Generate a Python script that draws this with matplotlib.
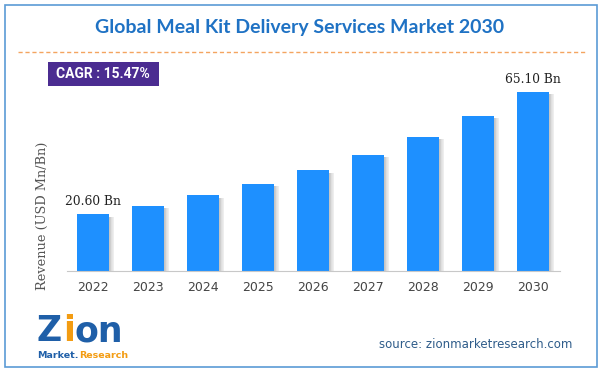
import matplotlib
matplotlib.use("Agg")
import matplotlib.pyplot as plt
from matplotlib.patches import Rectangle

years = ["2022", "2023", "2024", "2025", "2026", "2027", "2028", "2029", "2030"]
revenue = [20.6, 23.8, 27.5, 31.7, 36.6, 42.3, 48.8, 56.4, 65.1]
first_label = "20.60 Bn"
last_label = "65.10 Bn"
title = "Global Meal Kit Delivery Services Market 2030"
cagr = "CAGR : 15.47%"
ylabel = "Revenue (USD Mn/Bn)"
source = "source: zionmarketresearch.com"

W, H = 601, 373
fig = plt.figure(figsize=(W / 100, H / 100), dpi=100)
renderer = fig.canvas.get_renderer()

def fx(px):
    return px / W

def fy(py):
    return 1 - py / H

def fit_text(xc, yc, s, target_w, size, **kw):
    t = fig.text(fx(xc), fy(yc), s, fontsize=size, **kw)
    w = t.get_window_extent(renderer=renderer).width
    t.set_fontsize(size * target_w / w)
    return t

# outer border
fig.patches.append(Rectangle((fx(5), fy(367)), fx(592), (362) / H, transform=fig.transFigure,
                             fill=False, edgecolor="#5B9BD5", linewidth=1.2))

# title
fit_text(300, 28, title, 406, 12, ha="center", va="center", fontweight="bold",
         color="#1F72C4", family="Lato")

# dashed line
fig.add_artist(plt.Line2D([fx(18), fx(585)], [fy(52), fy(52)], transform=fig.transFigure,
                          color="#F4A460", linestyle=(0, (3, 2)), linewidth=1.0))

# CAGR box
fig.patches.append(Rectangle((fx(48), fy(86)), fx(111), 24 / H, transform=fig.transFigure,
                             facecolor="#4B2C91", edgecolor="none"))
fit_text(103, 74, cagr, 94, 10, ha="center", va="center", fontweight="bold",
         color="white", family="Roboto")

# axes
top_px, base_px, left_px, right_px = 60, 271, 67, 560
ax = fig.add_axes([fx(left_px), fy(base_px), (right_px - left_px) / W, (base_px - top_px) / H])
ax.set_xlim(-0.473, 8.49)
ax.set_ylim(0, 76.7)
x = list(range(len(years)))
bw = 0.58
# soft shadows
for k in range(7):
    ax.bar([i + bw / 2 + 0.008 + k * 0.014 for i in x], [v - 0.8 for v in revenue], width=0.016,
           color="#808080", alpha=0.45 * (1 - k / 7), linewidth=0, align="center")
ax.bar(x, revenue, width=bw, color="#1E90FF", linewidth=0)
ax.text(x[0], revenue[0] + 2.3, first_label, ha="center", va="bottom", fontsize=8.8,
        family="DejaVu Serif", color="#222222")
ax.text(x[-1], revenue[-1] + 2.3, last_label, ha="center", va="bottom", fontsize=8.8,
        family="DejaVu Serif", color="#222222")
for s in ["top", "right", "left"]:
    ax.spines[s].set_visible(False)
ax.spines["bottom"].set_color("#C8C8C8")
ax.set_yticks([])
ax.set_xticks(x)
ax.set_xticklabels(years, fontsize=9, color="#444444")
ax.tick_params(axis="x", length=0, pad=7)
ax.patch.set_alpha(0)

fig.text(fx(42), fy(216), ylabel, rotation=90, ha="center", va="center", fontsize=9.3,
         family="DejaVu Serif", color="#555555")

# logo, placed piece by piece
def seq_text(x0, y0, parts, size):
    xpos = x0
    for s, c in parts:
        t = fig.text(fx(xpos), fy(y0), s, fontsize=size, fontweight="bold", color=c,
                     family="DejaVu Sans", ha="left", va="center")
        bb = t.get_window_extent(renderer=renderer)
        xpos += bb.width + 0.5

seq_text(37, 331, [("Z", "#1F5FA8"), ("i", "#F39C12"), ("on", "#1F5FA8")], 25)
seq_text(37, 356, [("Market.", "#1F5FA8"), ("Research", "#F39C12")], 6.8)

fit_text(476, 344, source, 192, 9, ha="center", va="center",
         color="#2E5C8A", family="DejaVu Sans")

fig.savefig("out.png", dpi=100)
